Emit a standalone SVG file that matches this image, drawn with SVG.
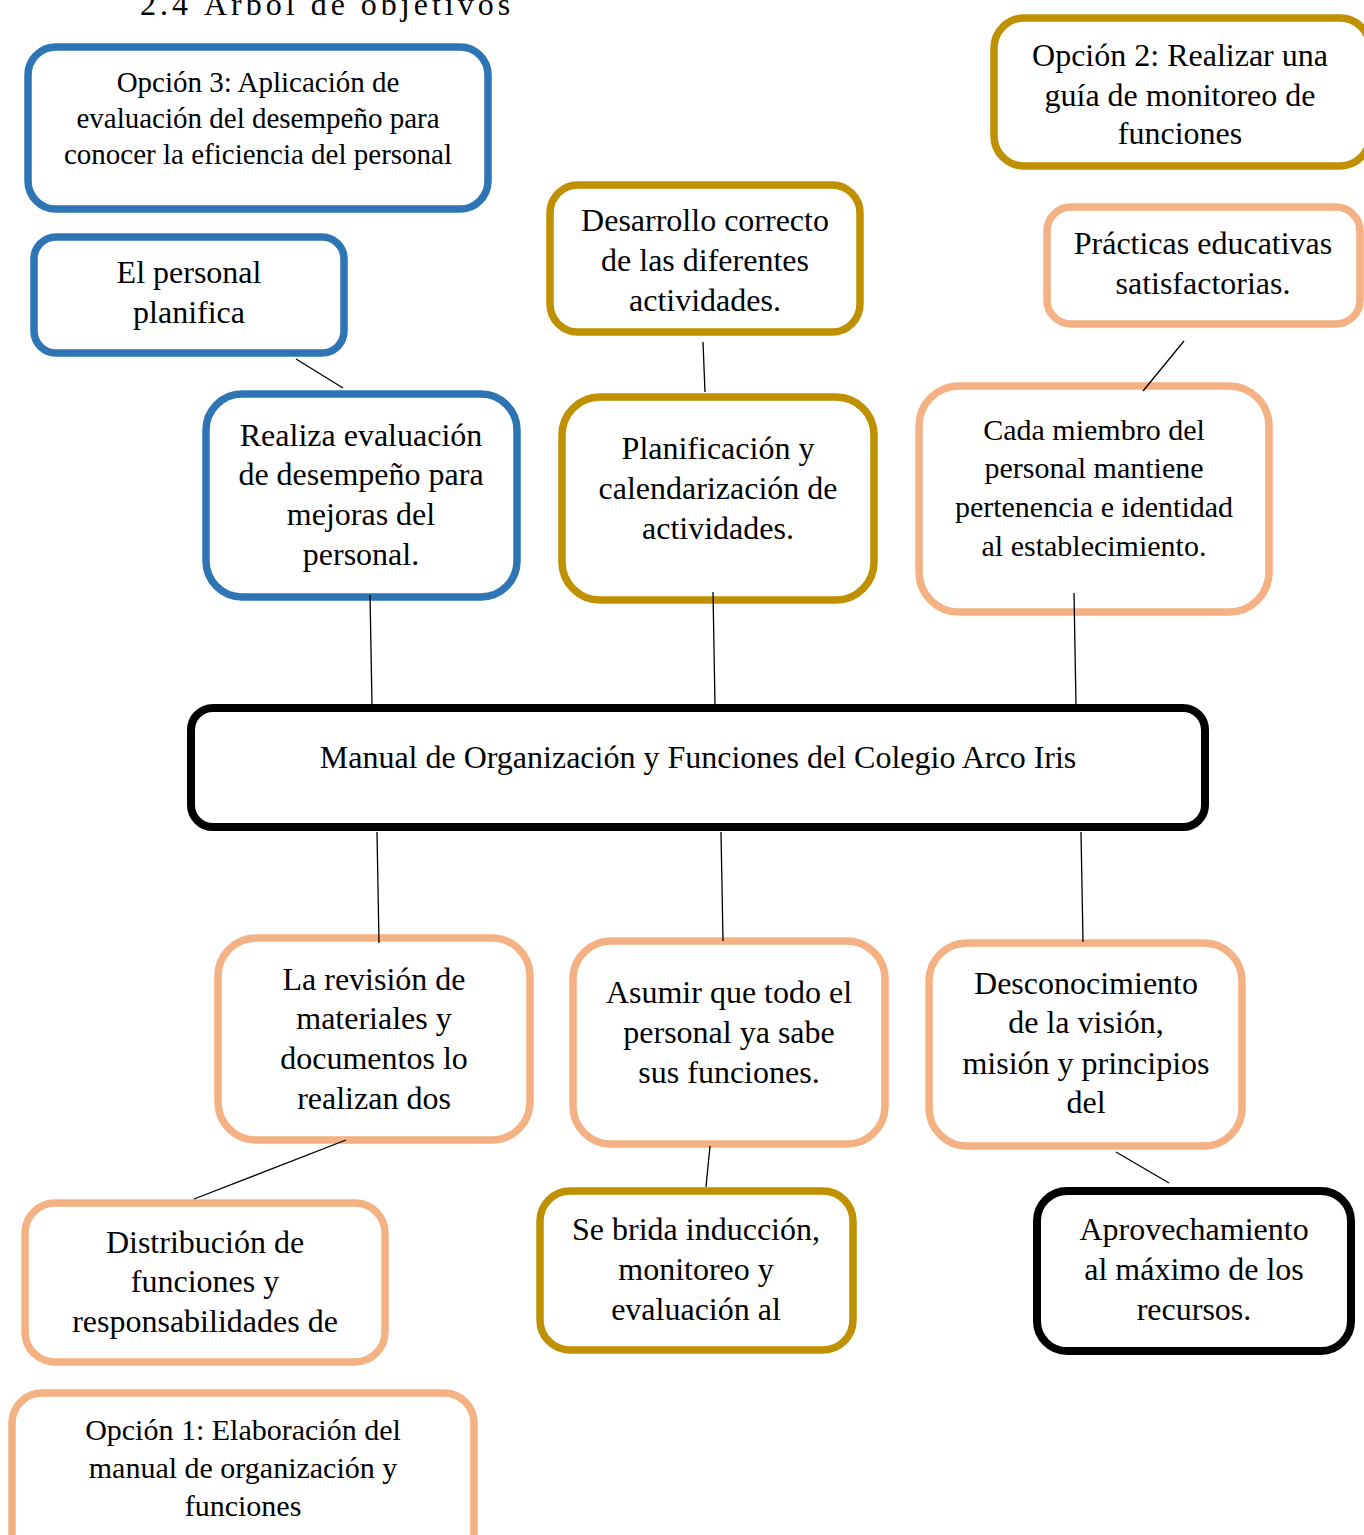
<svg xmlns="http://www.w3.org/2000/svg" width="1364" height="1535" viewBox="0 0 1364 1535">
<style>
text{font-family:"Liberation Serif","Times New Roman",serif;fill:#000;text-anchor:middle;font-size:32px}
.box{fill:#fff;stroke-width:7.5}
.blue{stroke:#2e75b6}
.gold{stroke:#bf9000}
.salmon{stroke:#f4b183}
.black{stroke:#000;stroke-width:8}
.conn line{stroke:#000;stroke-width:1.3}
.title{text-anchor:start;letter-spacing:4px}
</style>
<rect width="1364" height="1535" fill="#fff"/>
<text class="title" x="140" y="15">2.4 Árbol de objetivos</text>

<g id="opcion3">
<rect class="box blue" x="28" y="47" width="460" height="162" rx="28"/>
<text font-size="29" style="font-size:29px" x="258" y="92">Opción 3: Aplicación de</text>
<text style="font-size:29px" x="258" y="128">evaluación del desempeño para</text>
<text style="font-size:29px" x="258" y="164">conocer la eficiencia del personal</text>
</g>
<g id="personal-planifica">
<rect class="box blue" x="34" y="237" width="310" height="116" rx="22"/>
<text x="189" y="283">El personal</text>
<text x="189" y="323">planifica</text>
</g>
<g id="desarrollo">
<rect class="box gold" x="550" y="185" width="310" height="147" rx="28"/>
<text x="705" y="231">Desarrollo correcto</text>
<text x="705" y="271">de las diferentes</text>
<text x="705" y="311">actividades.</text>
</g>
<g id="opcion2">
<rect class="box gold" x="994" y="18" width="376" height="148" rx="30"/>
<text x="1180" y="66">Opción 2: Realizar una</text>
<text x="1180" y="106">guía de monitoreo de</text>
<text x="1180" y="144">funciones</text>
</g>
<g id="practicas">
<rect class="box salmon" x="1047" y="207" width="313" height="117" rx="24"/>
<text x="1203" y="254">Prácticas educativas</text>
<text x="1203" y="294">satisfactorias.</text>
</g>
<g id="realiza">
<rect class="box blue" x="206" y="394" width="311" height="203" rx="36"/>
<text x="361" y="446">Realiza evaluación</text>
<text x="361" y="485">de desempeño para</text>
<text x="361" y="525">mejoras del</text>
<text x="361" y="565">personal.</text>
</g>
<g id="planificacion">
<rect class="box gold" x="562" y="397" width="312" height="203" rx="38"/>
<text x="718" y="459">Planificación y</text>
<text x="718" y="499">calendarización de</text>
<text x="718" y="539">actividades.</text>
</g>
<g id="cada-miembro">
<rect class="box salmon" x="919" y="386" width="350" height="226" rx="40"/>
<text style="font-size:30px" x="1094" y="440">Cada miembro del</text>
<text style="font-size:30px" x="1094" y="478">personal mantiene</text>
<text style="font-size:30px" x="1094" y="517">pertenencia e identidad</text>
<text style="font-size:30px" x="1094" y="556">al establecimiento.</text>
</g>
<g id="manual">
<rect class="box black" x="191" y="708" width="1014" height="119" rx="22"/>
<text x="698" y="768">Manual de Organización y Funciones del Colegio Arco Iris</text>
</g>
<g id="revision">
<rect class="box salmon" x="218" y="938" width="312" height="202" rx="38"/>
<text x="374" y="990">La revisión de</text>
<text x="374" y="1029">materiales y</text>
<text x="374" y="1069">documentos lo</text>
<text x="374" y="1109">realizan dos</text>
</g>
<g id="asumir">
<rect class="box salmon" x="573" y="941" width="312" height="203" rx="38"/>
<text x="729" y="1003">Asumir que todo el</text>
<text x="729" y="1043">personal ya sabe</text>
<text x="729" y="1083">sus funciones.</text>
</g>
<g id="desconocimiento">
<rect class="box salmon" x="929" y="943" width="313" height="203" rx="38"/>
<text x="1086" y="994">Desconocimiento</text>
<text x="1086" y="1033">de la visión,</text>
<text x="1086" y="1074">misión y principios</text>
<text x="1086" y="1113">del</text>
</g>
<g id="distribucion">
<rect class="box salmon" x="25" y="1203" width="360" height="159" rx="30"/>
<text x="205" y="1253">Distribución de</text>
<text x="205" y="1292">funciones y</text>
<text x="205" y="1332">responsabilidades de</text>
</g>
<g id="induccion">
<rect class="box gold" x="540" y="1191" width="313" height="159" rx="30"/>
<text x="696" y="1240">Se brida inducción,</text>
<text x="696" y="1280">monitoreo y</text>
<text x="696" y="1320">evaluación al</text>
</g>
<g id="aprovechamiento">
<rect class="box black" x="1037" y="1191" width="314" height="160" rx="30"/>
<text x="1194" y="1240">Aprovechamiento</text>
<text x="1194" y="1280">al máximo de los</text>
<text x="1194" y="1320">recursos.</text>
</g>
<g id="opcion1">
<rect class="box salmon" x="12" y="1393" width="462" height="170" rx="30"/>
<text style="font-size:30px" x="243" y="1440">Opción 1: Elaboración del</text>
<text style="font-size:30px" x="243" y="1478">manual de organización y</text>
<text style="font-size:30px" x="243" y="1516">funciones</text>
</g>

<g id="connectors" class="conn">
<line x1="296" y1="359" x2="343" y2="388"/>
<line x1="703" y1="342" x2="705" y2="392"/>
<line x1="1184" y1="341" x2="1143" y2="391"/>
<line x1="370" y1="595" x2="372" y2="705"/>
<line x1="713" y1="592" x2="715" y2="705"/>
<line x1="1074" y1="593" x2="1076" y2="705"/>
<line x1="377" y1="832" x2="379" y2="943"/>
<line x1="721" y1="832" x2="723" y2="941"/>
<line x1="1081" y1="832" x2="1083" y2="942"/>
<line x1="346" y1="1140" x2="194" y2="1199"/>
<line x1="710" y1="1146" x2="706" y2="1187"/>
<line x1="1116" y1="1152" x2="1169" y2="1183"/>
</g>
</svg>
